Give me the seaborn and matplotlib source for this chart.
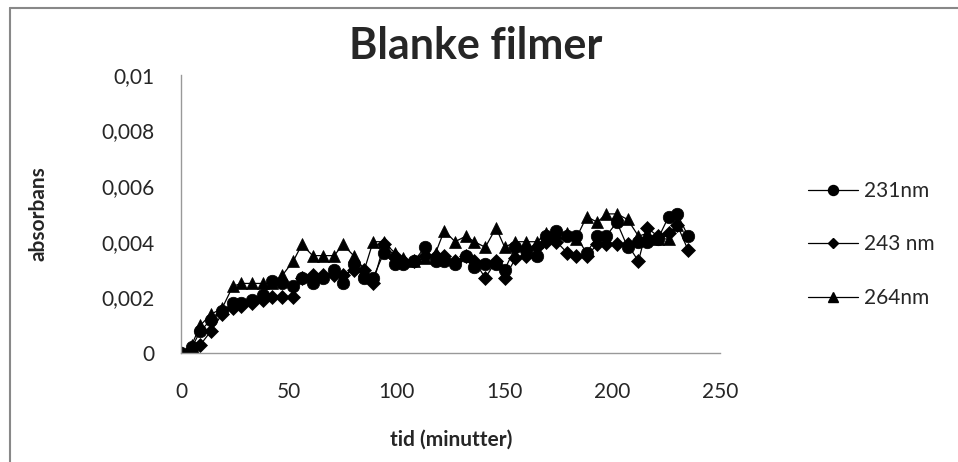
import numpy as np
import pandas as pd
import seaborn as sns
import matplotlib.pyplot as plt
from matplotlib.lines import Line2D

# tid (minutter)
tid = [0, 5, 9, 14, 19, 24, 28, 33, 38, 42, 47, 52, 56, 61, 66, 71, 75, 80, 85, 89,
       94, 99, 103, 108, 113, 118, 122, 127, 132, 136, 141, 146, 150, 155, 160, 165,
       169, 174, 179, 183, 188, 193, 197, 202, 207, 212, 216, 221, 226, 230, 235]

abs_231 = [0, 0.0002, 0.0008, 0.0012, 0.0015, 0.0018, 0.0018, 0.0019, 0.0021, 0.0026,
           0.0025, 0.0024, 0.0027, 0.0025, 0.0027, 0.0030, 0.0025, 0.0032, 0.0027, 0.0027,
           0.0036, 0.0032, 0.0032, 0.0033, 0.0038, 0.0033, 0.0033, 0.0032, 0.0035, 0.0031,
           0.0032, 0.0032, 0.0030, 0.0038, 0.0037, 0.0035, 0.0042, 0.0044, 0.0042, 0.0042,
           0.0036, 0.0042, 0.0042, 0.0047, 0.0038, 0.0040, 0.0040, 0.0041, 0.0049, 0.0050,
           0.0042]

abs_243 = [0, 0.0000, 0.0003, 0.0008, 0.0014, 0.0016, 0.0017, 0.0018, 0.0019, 0.0020,
           0.0020, 0.0020, 0.0027, 0.0028, 0.0028, 0.0028, 0.0028, 0.0030, 0.0030, 0.0025,
           0.0039, 0.0035, 0.0033, 0.0033, 0.0035, 0.0035, 0.0035, 0.0033, 0.0035, 0.0033,
           0.0027, 0.0033, 0.0027, 0.0034, 0.0035, 0.0038, 0.0040, 0.0040, 0.0036, 0.0035,
           0.0035, 0.0039, 0.0039, 0.0039, 0.0039, 0.0033, 0.0045, 0.0042, 0.0043, 0.0046,
           0.0037]

abs_264 = [0, 0.0003, 0.0010, 0.0014, 0.0016, 0.0024, 0.0025, 0.0025, 0.0025, 0.0025,
           0.0028, 0.0033, 0.0039, 0.0035, 0.0035, 0.0035, 0.0039, 0.0035, 0.0030, 0.0040,
           0.0040, 0.0036, 0.0034, 0.0033, 0.0034, 0.0036, 0.0044, 0.0040, 0.0042, 0.0040,
           0.0038, 0.0045, 0.0038, 0.0040, 0.0040, 0.0040, 0.0043, 0.0043, 0.0043, 0.0041,
           0.0049, 0.0047, 0.0050, 0.0050, 0.0048, 0.0042, 0.0043, 0.0041, 0.0041, 0.0046,
           np.nan]

serier = [('231nm', abs_231, 'o', 9), ('243 nm', abs_243, 'D', 7), ('264nm', abs_264, '^', 9)]

sns.set_style('white')
plt.rcParams['font.family'] = ['Lato', 'DejaVu Sans']

fig = plt.figure(figsize=(9.58, 4.62), dpi=100)
ax = fig.add_axes([0.189, 0.236, 0.563, 0.602])

handles = []
for navn, verdier, mk, ms in serier:
    df = pd.DataFrame({'tid': tid, 'abs': verdier}).dropna()
    sns.lineplot(data=df, x='tid', y='abs', ax=ax, color='black', lw=0.9,
                 marker=mk, markersize=ms, markeredgecolor='black', markeredgewidth=0.5)
    handles.append(Line2D([], [], color='black', lw=0.9, marker=mk, markersize=ms * 0.8, label=navn))

ax.set_xlim(0, 250)
ax.set_ylim(0, 0.01)
ax.set_xticks([0, 50, 100, 150, 200, 250])
ax.set_yticks([0, 0.002, 0.004, 0.006, 0.008, 0.01])
ax.set_yticklabels(['0', '0,002', '0,004', '0,006', '0,008', '0,01'])

for s in ['top', 'right']:
    ax.spines[s].set_visible(False)
for s in ['left', 'bottom']:
    ax.spines[s].set_color('#999999')
    ax.spines[s].set_linewidth(1)
ax.tick_params(axis='x', direction='out', length=5, color='#999999', pad=16, labelsize=15)
ax.tick_params(axis='y', direction='out', length=5, color='#999999', pad=14, labelsize=15)
ax.set_xlabel('tid (minutter)', fontsize=15, fontweight='bold', labelpad=20)
ax.set_ylabel('absorbans', fontsize=15, fontweight='bold', labelpad=38)

fig.text(0.497, 0.9, 'Blanke filmer', ha='center', va='center', fontsize=31, fontweight='bold')

ax.legend(handles=handles, loc='center left', bbox_to_anchor=(1.128, 0.39), frameon=False,
          fontsize=15, labelspacing=1.6, handlelength=2.4, handletextpad=0.3)

# ramme rundt diagramomraadet
fig.add_artist(Line2D([10 / 958, 10 / 958], [0, 1 - 8 / 462], color='#888888', lw=1.5))
fig.add_artist(Line2D([10 / 958, 1], [1 - 8 / 462, 1 - 8 / 462], color='#888888', lw=1.5))

fig.savefig('out.png', dpi=100)
